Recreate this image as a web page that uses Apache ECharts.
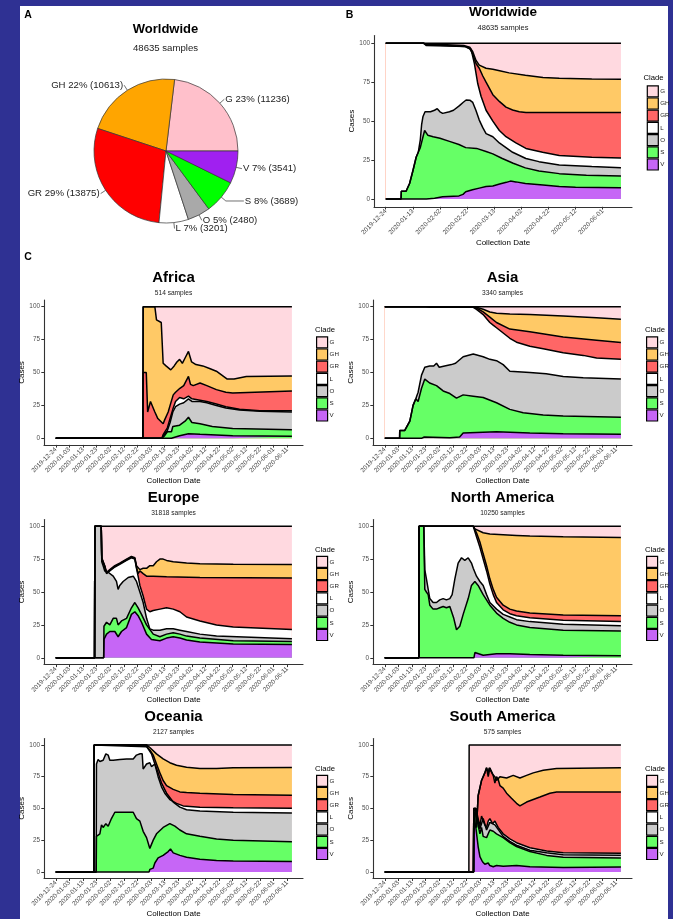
<!DOCTYPE html>
<html><head><meta charset="utf-8">
<script src="https://cdn.jsdelivr.net/npm/echarts@6/dist/echarts.min.js"></script>
<style>html,body{margin:0;padding:0;background:#2f3193;}#c{width:673px;height:919px;}</style>
</head><body><div id="c"></div><script>
// ---------------- DATA ----------------
const clades = ['G','GH','GR','L','O','S','V'];
// Panel A pie (sample counts per clade)
const pieCounts = [11236, 10613, 13875, 3201, 2480, 3689, 3541];
// x tick labels (collection dates); day 0 = 2019-12-24
const tickLabelsB = ['2019-12-24','2020-01-13','2020-02-02','2020-02-22','2020-03-13','2020-04-02','2020-04-22','2020-05-12','2020-06-01'];
const tickLabelsC = ['2019-12-24','2020-01-03','2020-01-13','2020-01-23','2020-02-02','2020-02-12','2020-02-22','2020-03-03','2020-03-13','2020-03-23','2020-04-02','2020-04-12','2020-04-22','2020-05-02','2020-05-12','2020-05-22','2020-06-01','2020-06-11'];
const yTicks = [0, 25, 50, 75, 100];
// Cumulative top edge of each clade band, [day since 2019-12-24, cases %]
// Worldwide
const ww_G  = [[0,100],[173.5,100]];
const ww_GH = [[0,100],[28,100],[30,99.3],[45,99],[58,98.5],[62,97.5],[64.2,94.6],[66.6,89],[69,86],[74,84],[79,83.3],[84,82.4],[91,81],[103,79.4],[116,78],[128,77.5],[152,77],[173.5,76.9]];
const ww_GR = [[0,100],[28,100],[30,99],[45,98.6],[58,98],[62,96.5],[64.2,93],[66.6,87],[69,84],[71.6,79],[74,75],[79,67],[84,62.5],[88.7,59],[93.6,57.2],[98.5,56.1],[103.4,55.5],[128,55.5],[173.5,55.5]];
const ww_L  = [[0,100],[28,100],[30,98.5],[45,98.2],[59,98],[63,96],[65.4,87],[67.9,74],[70.3,66],[74,57],[79,50],[83.8,44],[88.7,40],[96,36],[103.4,32.5],[115.7,30],[128,28],[152,26.8],[173.5,26.3]];
const ww_O  = [[0,0],[11.3,0],[11.5,5],[15,5],[17.6,10],[20,18],[22.5,27],[24,30],[25.5,38],[26.5,48],[27.5,53],[29,56],[33,56],[36,57],[38,58],[40,56],[42,55],[47,56],[50,57],[54.4,60],[57,62],[59.3,63.6],[62,63.5],[64.2,62],[66.5,57],[69,50.7],[71.5,46],[74,42],[79,40],[83.8,36],[88.7,33],[93.6,30],[103.4,26],[113,24],[128,21.8],[152,20.8],[173.5,20.1]];
const ww_S  = [[0,0],[11.3,0],[11.5,5],[15,5],[17.6,10],[20,18],[22.5,27],[24,30],[25.5,33],[27.5,40],[28.7,44],[31,41],[35,40],[40,39],[47,37],[54,35],[59,33],[67,32.5],[74,30.5],[79,29],[86,26],[94,23],[103,20],[113,18],[128,16.3],[148,15.3],[173.5,14.8]];
const ww_V  = [[0,0],[30,0],[36,0.5],[42,1.5],[54,2],[57,3],[59,4.7],[64,6],[69,7],[74,8],[79,8.4],[84,9.6],[89,10.7],[92,11.5],[96,11],[103,10],[116,9],[128,8],[140,7.5],[173.5,7.3]];
// Africa
const af_G  = [[0,0],[64,0],[64.2,100],[173.5,100]];
const af_GH = [[0,0],[64,0],[64.2,100],[72.8,100],[74,90],[77.5,88],[78.9,57],[81,55],[84.5,52],[87,55],[89,58],[91,60],[93,57],[95,61],[97.5,66],[99.8,58],[103,56],[108,55],[113,53],[118,51],[122,48],[126,45],[131,45],[140,47],[173.5,47.3]];
const af_GR = [[0,0],[64,0],[64.2,50],[66.5,50],[67.5,20],[69.6,28],[72.8,20],[75,15],[78.9,11],[80,14],[82.6,20],[84,25],[86.3,33],[88,35],[91.2,38],[94,40],[97.5,47],[99,41],[101,40],[106,42],[111,40],[118,37],[125,35],[130,34.5],[173.5,36]];
const af_L  = [[0,0],[78,0],[79,3],[82,8],[84,15],[86,22],[88,28],[91,31],[94,30],[97.5,32],[100,30],[106,29],[111,28],[118,26],[125,24],[135,22],[150,21],[173.5,21]];
const af_O  = [[0,0],[78,0],[79,2],[82,6],[84,12],[86,20],[88,24],[91,26],[94,27],[97.5,30],[100,28],[106,28],[111,27],[118,25],[125,23],[135,21.5],[150,20.5],[173.5,20]];
const af_S  = [[0,0],[78,0],[80,2],[82,5],[85,5],[86,9],[91,10],[95,13],[97.5,16],[100,12],[106,11],[115,9],[130,7.5],[173.5,6.5]];
const af_V  = [[0,0],[85,0],[86,1],[91,2],[97.5,3.5],[106,3],[130,2],[173.5,1.5]];
// Asia
const as_G  = [[0,100],[173.5,100]];
const as_GH = [[0,100],[65,100],[67.4,99.5],[72.3,98],[77.2,96],[82.1,95],[91.9,94.4],[106.6,94],[131.1,93],[155.6,91.5],[173.5,90.4]];
const as_GR = [[0,100],[65,100],[67.4,99],[72.3,96],[77.2,92],[82.1,88],[91.9,83],[106.6,81],[131.1,77],[155.6,74.5],[173.5,72.7]];
const as_L  = [[0,100],[30,100],[33,99.5],[65,99.5],[67.4,98],[69.8,96],[72.3,94],[74.7,91],[77.2,88],[79.6,86],[82.1,84],[87,80],[91.9,76],[96.8,73],[106.6,70],[116.4,68],[131.1,65],[145.8,63],[155.6,61],[173.5,60]];
const as_O  = [[0,0],[10.9,0],[11,6],[14.7,6],[18.4,13],[20.8,25],[22.8,30],[24.5,35],[27,48],[29.4,54],[33,55],[36,55],[38,57],[40,54],[44,55],[49,56],[52,57],[57.6,62],[65,64],[72.3,62],[77.2,60],[82.1,59],[87,56],[91.9,51],[106.6,50],[118.6,49],[131.1,47],[145.8,46],[173.5,45]];
const as_S  = [[0,0],[10.9,0],[11,6],[14.7,6],[18.4,13],[20.8,25],[22.8,30],[24.5,28],[27,38],[29.4,45],[33,42],[38,40],[42.9,36],[47.8,34],[52.7,30.5],[57.6,33],[65,32],[72.3,31],[82.1,27],[91.9,22],[101.7,19.5],[116.4,17.7],[131.1,17],[173.5,16]];
const as_V  = [[0,0],[27,0],[29,1],[47.8,0.5],[55,1],[57.6,4],[67.4,4.5],[82.1,5],[106.6,4],[131.1,3.5],[173.5,3]];
// Europe
const eu_G  = [[0,0],[28.5,0],[28.7,100],[173.5,100]];
const eu_GH = [[0,0],[28.5,0],[28.7,100],[33.4,100],[33.8,76],[34.8,75],[36,70],[37.3,65],[39.7,67],[43.4,70],[47,72],[52,75],[55.6,77],[58.1,76],[59.3,70],[61.8,67],[64.2,68],[66.7,68],[69.1,70],[71.6,70],[74,73],[76.5,75],[78.9,75],[81.4,74],[86.3,73],[96.1,72],[105.9,71.5],[130.4,71],[173.5,70.8]];
const eu_GR = [[0,0],[28.5,0],[28.7,100],[33.4,100],[33.8,75.5],[34.8,74.5],[36,69.5],[37.3,64.5],[39.7,66.5],[43.4,69.5],[47,71.5],[52,74.5],[55.6,76.5],[58.1,75.5],[59.3,69],[60.5,64],[61.8,66],[64.2,64],[66.7,62],[71.6,62],[81.4,61.5],[105.9,61],[173.5,60.7]];
const eu_L  = [[0,0],[28.5,0],[28.7,100],[33.4,100],[33.8,75],[34.8,74],[36,69],[37.3,64],[39.7,66],[43.4,69],[47,71],[52,74],[55.6,76],[58.1,75],[59.3,68],[60.5,62],[61.8,55],[64.2,47],[66.7,37],[69.1,35],[71.6,36],[76.5,37],[81.4,38],[86.3,37],[91.2,35],[96.1,31],[105.9,28],[118.1,25],[130.4,23.4],[173.5,21.6]];
const eu_O  = [[0,0],[28.5,0],[28.7,100],[33.4,100],[33.8,73],[34.8,70],[36,66],[38.5,65],[42.2,62],[44.6,58],[45.8,52],[47,55],[49.5,58],[53.2,61],[56.9,62],[59.3,58],[61.8,50],[64.2,42],[66.7,30],[69.1,22],[71.6,21],[76.5,21],[81.4,22],[86.3,22],[91.2,21],[96.1,20],[105.9,18],[118.1,16.5],[173.5,14.5]];
const eu_S  = [[0,0],[35.2,0],[35.4,24],[37.3,27],[39.7,25],[42.2,30],[44.6,30],[45.8,25],[48.3,28],[52,30],[55.6,38],[58.1,42],[60.5,38],[63,33],[66.7,25],[71.6,18],[76.5,16],[81.4,18],[86.3,19],[91.2,18],[96.1,16.5],[105.9,15],[130.4,13],[173.5,12.4]];
const eu_V  = [[0,0],[35.2,0],[35.4,14],[37.3,18],[39.7,20],[43.4,20],[45.8,16],[48.3,20],[52,23],[55.6,33],[58.1,35],[60.5,32],[63,27],[66.7,18],[70.3,14],[76.5,13],[81.4,15],[86.3,16],[91.2,15],[96.1,13.5],[105.9,12],[130.4,10.5],[173.5,10.2]];
// North America
const na_G  = [[0,0],[25,0],[25.2,100],[173.5,100]];
const na_GH = [[0,0],[25,0],[25.2,100],[65,100],[66.2,98],[67.4,97],[72.3,95],[77.2,94],[87,93.5],[96.8,93],[106.6,92.5],[131.1,92],[173.5,91.4]];
const na_GR = [[0,0],[25,0],[25.2,100],[65,100],[67.4,95],[69.9,88],[72.3,79],[74.8,70],[77.2,60],[79.7,52],[82.1,46],[87,40],[91.9,37],[96.8,35.5],[106.6,34],[131.1,32.5],[173.5,32]];
const na_L  = [[0,0],[25,0],[25.2,100],[65,100],[67.4,92],[69.9,84],[72.3,75],[74.8,66],[77.2,56],[79.7,48],[82.1,42],[87,36.5],[91.9,33.5],[96.8,32],[106.6,30.5],[131.1,28.5],[173.5,27.5]];
const na_O  = [[0,0],[25,0],[25.2,100],[28.7,100],[29.4,67],[30.6,60],[31.9,52],[33.1,45],[35.5,42],[38,42],[40.4,44],[42.9,45],[45.3,44],[47.8,45],[49.5,48],[51.5,60],[53.9,72],[56.4,76],[58.8,74],[61.3,76],[63.7,72],[65,68],[67.4,62],[69.9,58],[72.3,55],[74.8,48],[77.2,42],[82.1,37],[87,33],[91.9,31],[96.8,29],[106.6,27.5],[131.1,25.5],[173.5,24.3]];
const na_S  = [[0,0],[25,0],[25.2,100],[28.7,100],[29.4,52],[30.6,50],[31.9,48],[33.1,40],[35.5,37],[38,37],[40.4,38],[42.9,39],[45.3,38],[47.8,39],[49,38],[50.7,30],[52.7,21.3],[55.1,24],[57.6,33],[61.3,45],[63.7,55],[66.2,58],[68.6,55],[72.3,48],[77.2,40],[82.1,34],[87,30],[91.9,27],[96.8,25],[106.6,23],[131.1,21],[173.5,20.3]];
const na_V  = [[0,0],[65.5,0],[66.2,4],[67.4,2.5],[72.3,2],[77.2,2.5],[82.1,3],[91.9,3],[106.6,2.5],[131.1,2],[173.5,1.5]];
// Oceania
const oc_G  = [[0,0],[28,0],[28.2,100],[173.5,100]];
const oc_GH = [[0,0],[28,0],[28.2,100],[66.7,100],[69.1,98],[74,93],[78.9,89],[83.8,86],[88.7,84],[96.1,82.5],[105.9,81.5],[118.1,81.5],[130.4,82],[173.5,82.3]];
const oc_GR = [[0,0],[28,0],[28.2,100],[66.7,98.5],[69.1,96],[71.6,92],[74,85],[76.5,78],[78.9,72],[81.4,68],[86.3,65],[91.2,63],[96.1,62.5],[105.9,62],[130.4,61],[173.5,60.3]];
const oc_L  = [[0,0],[28,0],[28.2,100],[66.7,100],[67.9,97],[70.3,93],[72.8,85],[75.2,75],[77.7,67],[80.1,62],[83.8,57],[88.7,54],[93.6,52],[105.9,51],[130.4,50.5],[173.5,50.1]];
const oc_O  = [[0,0],[29.7,0],[29.9,85],[31.1,88.6],[32.4,87],[34.8,88],[36.8,93],[38.5,92],[39.7,88],[42.2,88],[47.1,88.5],[52,89],[56.9,89],[59.3,92],[62,93],[63.5,93],[64.2,81],[66.7,85],[69.1,86],[70.3,83],[72.8,85],[75.2,78],[77.7,70],[81.4,62],[86.3,55],[91.2,51],[96.1,49],[105.9,48],[130.4,47],[173.5,46.3]];
const oc_S  = [[0,0],[29.7,0],[29.9,28],[32.4,30],[33.6,37],[34.8,35],[36.8,38],[38.5,36],[40.9,42],[43.4,47],[56.9,47],[59.3,42],[61.8,40],[64.2,32],[66.7,27],[69.1,18.5],[70.3,19],[71.6,25],[74,30],[78.9,35],[83.8,38],[87.5,36],[91.2,33],[96.1,30],[105.9,28],[118.1,26],[130.4,25],[173.5,23.8]];
const oc_V  = [[0,0],[68.6,0],[69.1,2],[71.6,3],[72.8,7],[75.2,11],[78.9,13],[82.6,16],[84.3,18],[86.3,15],[91.2,13],[96.1,11.5],[105.9,10],[118.1,9],[130.4,8.5],[173.5,8.1]];
// South America
const sa_G  = [[0,0],[61.8,0],[62,100],[173.5,100]];
const sa_GH = [[0,0],[65.2,0],[65.4,50],[66.9,50],[67.4,35],[68.6,60],[71.1,72],[73.5,78],[74.8,82],[76,78],[76.7,82],[77.7,82],[79.2,77],[80.9,75],[82.1,72],[84.6,75],[89.5,74],[94.4,76],[99.3,74],[104.2,76],[109.1,78],[116.4,80],[126.2,81.5],[173.5,82]];
const sa_GR = [[0,0],[65.2,0],[65.4,50],[66.9,50],[67.4,35],[68.6,60],[71.1,72],[73.5,78],[74.8,82],[76,75],[77.2,82],[79.7,76],[80.9,70],[82.1,75],[83.3,73],[84.6,68],[87,66],[89.5,62],[93.1,58],[96.8,54],[99.3,52],[104.2,55],[109.1,57],[114,59],[121.3,62],[126.2,63],[173.5,63]];
const sa_L  = [[0,0],[65.2,0],[65.4,50],[66.9,50],[68.6,42],[69.9,36],[71.1,44],[72.3,45],[73.5,37],[74.8,35],[76,40],[77.2,42],[79.2,38],[80.9,40],[83.3,35],[87,30],[91.9,26],[96.8,23],[106.6,19],[118.9,16.5],[131.1,15],[173.5,14.7]];
const sa_O  = [[0,0],[65.2,0],[65.4,49],[66.9,48],[68.6,40],[69.9,34],[72.3,42],[74.8,33],[77.2,39],[80.9,37],[87,28],[91.9,24],[96.8,21],[106.6,17],[118.9,15],[131.1,13.5],[173.5,13.2]];
const sa_S  = [[0,0],[65.2,0],[65.4,47],[66.9,45],[68.6,37],[69.9,30],[71.1,35],[72.3,28],[74.8,27],[77.2,33],[79.7,32],[82.1,30],[87,27],[91.9,23],[96.8,20],[106.6,16],[118.9,13],[131.1,11.5],[173.5,11]];
const sa_V  = [[0,0],[65.2,0],[65.4,45],[66.9,35],[68.6,20],[69.9,12],[71.8,8],[73.5,6],[74.8,5],[76,7],[77.2,5],[79.7,4],[82.1,5],[87,4.5],[96.8,5],[106.6,4],[131.1,3.5],[173.5,3.8]];

// ---------------- STYLE / LAYOUT ----------------
const pieColors  = ['#FFC0CB','#FFA500','#FF0000','#FFFFFF','#A9A9A9','#00FF00','#A020F0'];
const areaColors = ['#FFD9E0','#FFC966','#FF6666','#FFFFFF','#CBCBCB','#66FF66','#C666F6'];
const FONT = '"Liberation Sans", Arial, Helvetica, sans-serif';

const panels = [
  {title:'Worldwide', sub:'48635 samples', data:[ww_G,ww_GH,ww_GR,ww_L,ww_O,ww_S,ww_V], left:374, top:35.5, w:258, h:171.3, ticks:tickLabelsB, step:20, tY:12.5, sY:28, tS:13.5, sS:7.5, legL:646.7, legT:85.2, cladeX:643.5, cladeY:78.3, xGap:32, yGap:15},
  {title:'Africa', sub:'514 samples', data:[af_G,af_GH,af_GR,af_L,af_O,af_S,af_V], col:0, row:0},
  {title:'Asia', sub:'3340 samples', data:[as_G,as_GH,as_GR,as_L,as_O,as_S,as_V], col:1, row:0},
  {title:'Europe', sub:'31818 samples', data:[eu_G,eu_GH,eu_GR,eu_L,eu_O,eu_S,eu_V], col:0, row:1},
  {title:'North America', sub:'10250 samples', data:[na_G,na_GH,na_GR,na_L,na_O,na_S,na_V], col:1, row:1},
  {title:'Oceania', sub:'2127 samples', data:[oc_G,oc_GH,oc_GR,oc_L,oc_O,oc_S,oc_V], col:0, row:2},
  {title:'South America', sub:'575 samples', data:[sa_G,sa_GH,sa_GR,sa_L,sa_O,sa_S,sa_V], col:1, row:2}
];
const colLeft = [44, 373], rowTop = [300.1, 519.6, 738.6], legLeft = [316, 646];
panels.forEach(p => {
  if (p.row === undefined) return;
  p.left = colLeft[p.col]; p.top = rowTop[p.row]; p.w = 259; p.h = 144.8;
  p.ticks = tickLabelsC; p.step = 10;
  p.tY = p.top - 21.8; p.sY = p.top - 6.6; p.tS = 15; p.sS = 6.6;
  p.legL = legLeft[p.col]; p.legT = p.top + 36.1; p.cladeX = p.legL - 1; p.cladeY = p.top + 30;
  p.xGap = 30.5; p.yGap = 15;
});

const grid = [], xAxis = [], yAxis = [], series = [], legend = [];
const graphic = [
  {type:'rect', shape:{x:20, y:6, width:648, height:913}, style:{fill:'#ffffff'}, z:-10, silent:true},
  {type:'text', style:{x:28, y:15.5, text:'A', font:'bold 10.5px '+FONT, fill:'#000', align:'center', verticalAlign:'middle'}},
  {type:'text', style:{x:349.5, y:15, text:'B', font:'bold 10.5px '+FONT, fill:'#000', align:'center', verticalAlign:'middle'}},
  {type:'text', style:{x:28, y:257, text:'C', font:'bold 10.5px '+FONT, fill:'#000', align:'center', verticalAlign:'middle'}},
  {type:'text', style:{x:165.5, y:29.5, text:'Worldwide', font:'bold 13px '+FONT, fill:'#000', align:'center', verticalAlign:'middle'}},
  {type:'text', style:{x:165.5, y:48.3, text:'48635 samples', font:'9.6px '+FONT, fill:'#222', align:'center', verticalAlign:'middle'}}
];

panels.forEach((p, i) => {
  grid.push({left:p.left, top:p.top, width:p.w, height:p.h, containLabel:false});
  const tv = p.ticks.map((_, k) => k * p.step);
  xAxis.push({
    type:'value', gridIndex:i, min:-8.65, max:181.65,
    name:'Collection Date', nameLocation:'middle', nameGap:p.xGap,
    nameTextStyle:{fontSize:8, color:'#000', fontFamily:FONT},
    axisLine:{show:true, onZero:false, lineStyle:{color:'#333', width:1.1}},
    axisTick:{show:true, length:2.7, customValues:tv, lineStyle:{color:'#333', width:1}},
    axisLabel:{show:true, customValues:tv, rotate:45, margin:3.5, fontSize:6.4, color:'#4D4D4D', fontFamily:FONT,
      formatter: v => { const k = Math.round(v / p.step); return (Math.abs(v - k*p.step) < 1e-6 && p.ticks[k]) ? p.ticks[k] : ''; }},
    splitLine:{show:false}
  });
  yAxis.push({
    type:'value', gridIndex:i, min:-5, max:105,
    name:'Cases', nameLocation:'middle', nameGap:p.yGap, nameRotate:90,
    nameTextStyle:{fontSize:8, color:'#000', fontFamily:FONT},
    axisLine:{show:true, onZero:false, lineStyle:{color:'#333', width:1.1}},
    axisTick:{show:true, length:2.7, customValues:yTicks, lineStyle:{color:'#333', width:1}},
    axisLabel:{show:true, customValues:yTicks, margin:4, fontSize:6.4, color:'#4D4D4D', fontFamily:FONT},
    splitLine:{show:false}
  });
  p.data.forEach((d, c) => {
    series.push({
      type:'line', name:clades[c], xAxisIndex:i, yAxisIndex:i, data:d,
      showSymbol:false, symbol:'none', silent:true, animation:false,
      color:areaColors[c],
      lineStyle:{color:'#000', width:1.5},
      areaStyle:{color:areaColors[c], opacity:1, origin:'auto'},
      emphasis:{disabled:true}
    });
  });
  legend.push({
    data: clades.map((n, c) => ({name:n, itemStyle:{color:areaColors[c], borderColor:'#000', borderWidth:1.2}})),
    orient:'vertical', left:p.legL, top:p.legT, padding:0, itemWidth:11, itemHeight:11, itemGap:0,
    icon:'rect', selectedMode:false,
    itemStyle:{borderColor:'#000', borderWidth:1.2},
    textStyle:{fontSize:6.2, color:'#222', fontFamily:FONT, padding:[0,0,0,-3]}
  });
  graphic.push({type:'text', style:{x:p.left + p.w/2, y:p.tY, text:p.title, font:'bold '+p.tS+'px '+FONT, fill:'#000', align:'center', verticalAlign:'middle'}});
  graphic.push({type:'text', style:{x:p.left + p.w/2, y:p.sY, text:p.sub, font:p.sS+'px '+FONT, fill:'#222', align:'center', verticalAlign:'middle'}});
  graphic.push({type:'text', style:{x:p.cladeX, y:p.cladeY, text:'Clade', font:'7.7px '+FONT, fill:'#000', align:'left', verticalAlign:'middle'}});
});

series.push({
  type:'pie', left:0, top:0, width:673, height:919,
  center:[166, 151], radius:72, startAngle:0, clockwise:false,
  avoidLabelOverlap:false, silent:true, animation:false,
  data: clades.map((n, c) => ({name:n, value:pieCounts[c], itemStyle:{color:pieColors[c]},
    labelLine: n === 'S' ? {length2:18} : undefined})),
  itemStyle:{borderColor:'#333', borderWidth:0.7},
  label:{show:true, position:'outside', fontSize:9.6, color:'#222', fontFamily:FONT, overflow:'none', distanceToLabelLine:1, width:160,
    formatter: q => q.name + ' ' + Math.round(q.percent) + '% (' + q.value + ')'},
  labelLine:{show:true, length:6, length2:0, lineStyle:{color:'#333', width:0.7}},
  labelLayout:{hideOverlap:false, moveOverlap:false},
  emphasis:{disabled:true}
});

const chart = echarts.init(document.getElementById('c'), null, {renderer:'canvas'});
chart.setOption({
  backgroundColor:'#2f3193', animation:false,
  grid, xAxis, yAxis, series, legend, graphic
});
</script></body></html>
